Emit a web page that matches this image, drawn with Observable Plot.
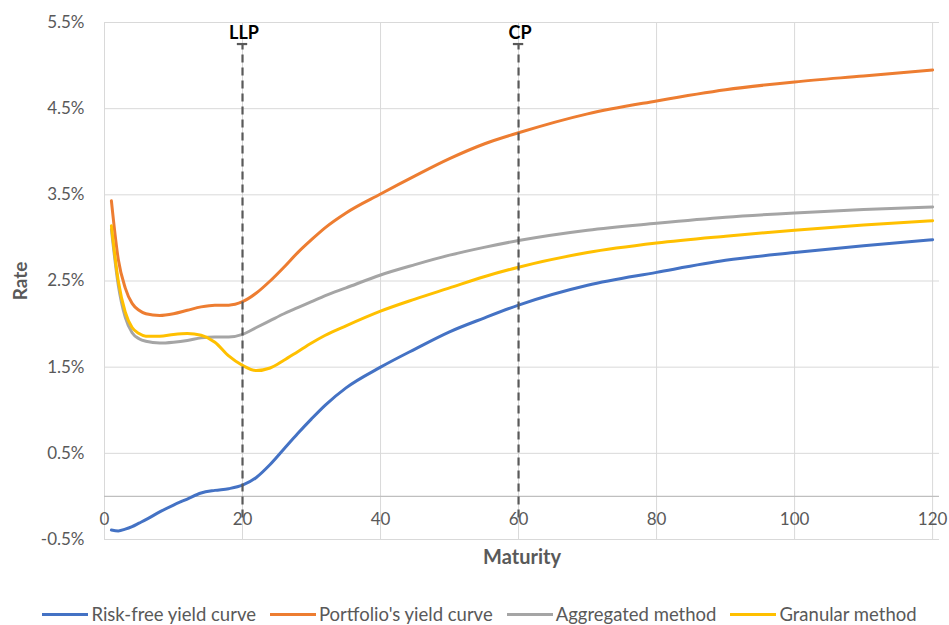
<!DOCTYPE html>
<html>
<head>
<meta charset="utf-8">
<script src="https://cdn.jsdelivr.net/npm/d3@7"></script>
<script src="https://cdn.jsdelivr.net/npm/@observablehq/plot@0.6"></script>
<style>
  html, body { margin: 0; padding: 0; background: #fff; }
  #chart svg { display: block; }
  .legend {
    display: flex; justify-content: center; align-items: center;
    font-family: Lato, "Open Sans", sans-serif; font-size: 18.5px; color: #595959;
    height: 22px; line-height: 22px; width: 949px; margin-left: 5px;
  }
  .legend .item { display: flex; align-items: center; margin: 0 7px; }
  .legend .sw { width: 46px; height: 3px; margin-right: 3px; }
</style>
</head>
<body>
<div id="chart"></div>
<div class="legend" id="legend"></div>
<script>
// Maturities (years) and the four yield curves (in %)
const maturities = [1, 2, 3, 4, 5, 6, 8, 10, 12, 14, 16, 18, 20, 22, 24, 26, 28, 30, 32, 35, 40, 45, 50, 55, 60, 70, 80, 90, 100, 110, 120];
const riskFree   = [-0.39, -0.40, -0.38, -0.35, -0.31, -0.27, -0.18, -0.10, -0.03, 0.04, 0.07, 0.09, 0.13, 0.22, 0.37, 0.55, 0.73, 0.90, 1.06, 1.26, 1.50, 1.71, 1.91, 2.07, 2.22, 2.45, 2.60, 2.74, 2.83, 2.91, 2.98];
const portfolio  = [3.43, 2.75, 2.42, 2.24, 2.16, 2.12, 2.10, 2.12, 2.16, 2.20, 2.22, 2.22, 2.26, 2.36, 2.50, 2.66, 2.83, 2.98, 3.12, 3.29, 3.51, 3.72, 3.92, 4.09, 4.22, 4.44, 4.59, 4.72, 4.81, 4.88, 4.95];
const aggregated = [3.10, 2.45, 2.08, 1.90, 1.83, 1.80, 1.78, 1.79, 1.81, 1.84, 1.85, 1.85, 1.88, 1.96, 2.04, 2.12, 2.19, 2.26, 2.33, 2.42, 2.57, 2.69, 2.80, 2.89, 2.97, 3.09, 3.17, 3.24, 3.29, 3.33, 3.36];
const granular   = [3.14, 2.50, 2.14, 1.96, 1.89, 1.86, 1.86, 1.88, 1.89, 1.87, 1.79, 1.63, 1.52, 1.46, 1.49, 1.58, 1.68, 1.78, 1.87, 1.98, 2.15, 2.29, 2.42, 2.55, 2.66, 2.83, 2.94, 3.02, 3.09, 3.15, 3.20];

const seriesNames  = ["Risk-free yield curve", "Portfolio's yield curve", "Aggregated method", "Granular method"];
const seriesColors = ["#4472C4", "#ED7D31", "#A5A5A5", "#FFC000"];
const seriesValues = [riskFree, portfolio, aggregated, granular];

// Reference points: last liquid point and convergence point
const refLabels = ["LLP", "CP"];
const refMaturities = [20, 60];
const refTop = 5.25;
const refBottom = -0.25;

const xTicks = [0, 20, 40, 60, 80, 100, 120];
const yTicks = [-0.5, 0.5, 1.5, 2.5, 3.5, 4.5, 5.5];

const rows = seriesNames.flatMap((name, i) =>
  maturities.map((m, j) => ({series: name, maturity: m, rate: seriesValues[i][j]}))
);
const refs = refLabels.map((label, i) => ({label, x: refMaturities[i]}));

const grid = "#d9d9d9";
const ink = "#595959";

const chart = Plot.plot({
  width: 949,
  height: 603,
  marginTop: 22,
  marginBottom: 64,
  marginLeft: 104,
  marginRight: 10,
  style: {fontFamily: "Lato, 'Open Sans', sans-serif", fontSize: "17px", color: ink, background: "#fff"},
  x: {domain: [0, 121]},
  y: {domain: [-0.5, 5.5]},
  color: {domain: seriesNames, range: seriesColors},
  marks: [
    Plot.gridY(yTicks, {stroke: grid, strokeOpacity: 1, strokeWidth: 1}),
    Plot.gridX(xTicks, {stroke: grid, strokeOpacity: 1, strokeWidth: 1}),
    Plot.ruleY([0], {stroke: "#bfbfbf", strokeWidth: 1.4}),
    Plot.axisY(yTicks, {tickSize: 0, tickPadding: 20, tickFormat: d => d.toFixed(1) + "%", label: null, fill: ink}),
    Plot.axisX(xTicks, {tickSize: 0, tickPadding: 0, dy: -27, label: null, fill: ink}),
    Plot.text(["Maturity"], {frameAnchor: "bottom", lineAnchor: "middle", textAnchor: "middle", dy: 18, fontWeight: "bold", fontSize: 20, fill: ink}),
    Plot.text(["Rate"], {frameAnchor: "left", textAnchor: "middle", lineAnchor: "middle", dx: -84, rotate: -90, fontWeight: "bold", fontSize: 19, fill: ink}),
    Plot.line(rows, {x: "maturity", y: "rate", stroke: "series", z: "series", strokeWidth: 3, curve: "monotone-x"}),
    Plot.ruleX(refs, {x: "x", y1: refBottom, y2: refTop, stroke: ink, strokeWidth: 2.2, strokeDasharray: "8,5"}),
    Plot.ruleY(refs, {y: refTop, x1: d => d.x - 0.75, x2: d => d.x + 0.75, stroke: ink, strokeWidth: 2.2}),
    Plot.text(refs, {x: "x", y: refTop, text: "label", dy: -11, dx: 1.5, fontWeight: "bold", fontSize: 18, fill: "#000"})
  ]
});
document.getElementById("chart").appendChild(chart);

const legend = document.getElementById("legend");
seriesNames.forEach((name, i) => {
  const item = document.createElement("div");
  item.className = "item";
  const sw = document.createElement("span");
  sw.className = "sw";
  sw.style.background = seriesColors[i];
  const label = document.createElement("span");
  label.textContent = name;
  item.appendChild(sw);
  item.appendChild(label);
  legend.appendChild(item);
});
</script>
</body>
</html>
